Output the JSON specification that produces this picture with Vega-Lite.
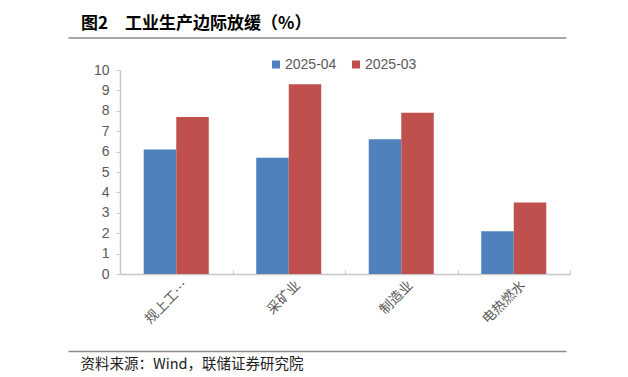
{
  "$schema": "https://vega.github.io/schema/vega-lite/v6.json",
  "background": "white",
  "width": 450,
  "height": 204,
  "autosize": {"type": "pad"},
  "padding": {"left": 68, "top": 14, "right": 0, "bottom": 0},
  "config": {
    "view": {"stroke": null},
    "font": "Liberation Sans"
  },
  "title": {
    "text": "图2　工业生产边际放缓（%）",
    "anchor": "start",
    "frame": "group",
    "dx": -39,
    "offset": 5,
    "font": "Noto Sans CJK SC",
    "fontSize": 17,
    "fontWeight": "bold",
    "color": "#000000"
  },
  "data": {
    "values": [
      {"category": "规上工业", "month": "2025-04", "value": 6.1},
      {"category": "规上工业", "month": "2025-03", "value": 7.7},
      {"category": "采矿业", "month": "2025-04", "value": 5.7},
      {"category": "采矿业", "month": "2025-03", "value": 9.3},
      {"category": "制造业", "month": "2025-04", "value": 6.6},
      {"category": "制造业", "month": "2025-03", "value": 7.9},
      {"category": "电热燃水", "month": "2025-04", "value": 2.1},
      {"category": "电热燃水", "month": "2025-03", "value": 3.5}
    ]
  },
  "layer": [
    {
      "mark": {"type": "bar"},
      "encoding": {
        "x": {
          "field": "category",
          "type": "nominal",
          "sort": ["规上工业", "采矿业", "制造业", "电热燃水"],
          "scale": {"paddingInner": 0, "paddingOuter": 0},
          "axis": {
            "orient": "bottom",
            "title": "资料来源：Wind，联储证券研究院",
            "titleX": -40,
            "titleY": 90.5,
            "titleAlign": "left",
            "titleBaseline": "middle",
            "titleLimit": 600,
            "titleFont": "Noto Sans CJK SC",
            "titleFontSize": 14.5,
            "titleFontWeight": "normal",
            "titleColor": "#222222",
            "labelAngle": -45,
            "labelFont": "Noto Sans CJK SC",
            "labelFontSize": 13.5,
            "labelColor": "#595959",
            "labelPadding": 8,
            "labelOffset": 4,
            "domainColor": "#c8c8c8",
            "domainWidth": 1.5,
            "tickColor": "#c8c8c8",
            "tickSize": -4,
            "tickBand": "extent",
            "labelExpr": "datum.value == '规上工业' ? '规上工…' : datum.value"
          }
        },
        "xOffset": {
          "field": "month",
          "type": "nominal",
          "sort": ["2025-04", "2025-03"],
          "scale": {"paddingInner": 0, "paddingOuter": 0.73}
        },
        "y": {
          "field": "value",
          "type": "quantitative",
          "scale": {"domain": [0, 10], "nice": false},
          "axis": {
            "title": null,
            "values": [0, 1, 2, 3, 4, 5, 6, 7, 8, 9, 10],
            "grid": false,
            "labelFont": "Liberation Sans",
            "labelFontSize": 14,
            "labelColor": "#595959",
            "labelPadding": 7,
            "domainColor": "#c8c8c8",
            "domainWidth": 1.5,
            "tickColor": "#c8c8c8",
            "tickSize": 4
          }
        },
        "color": {
          "field": "month",
          "type": "nominal",
          "sort": ["2025-04", "2025-03"],
          "scale": {"domain": ["2025-04", "2025-03"], "range": ["#4f81bd", "#c0504d"]},
          "legend": {
            "title": null,
            "orient": "none",
            "legendX": 149,
            "legendY": -12.5,
            "direction": "horizontal",
            "padding": 0,
            "symbolType": "square",
            "symbolSize": 64,
            "symbolStrokeWidth": 0,
            "labelFont": "Liberation Sans",
            "labelFontSize": 14,
            "labelColor": "#595959",
            "labelOffset": 2,
            "columnPadding": 12
          }
        }
      }
    },
    {
      "mark": {"type": "point", "opacity": 0},
      "encoding": {
        "x": {
          "field": "value",
          "type": "quantitative",
          "scale": {"domain": [0, 10], "range": [0, 498]},
          "axis": {
            "orient": "top",
            "position": -52,
            "offset": 32.5,
            "title": null,
            "labels": false,
            "ticks": false,
            "grid": false,
            "domainColor": "#8a8a8a",
            "domainWidth": 1.5
          }
        }
      }
    },
    {
      "mark": {"type": "point", "opacity": 0},
      "encoding": {
        "x": {
          "field": "value",
          "type": "quantitative",
          "scale": {"domain": [0, 10], "range": [0, 498]},
          "axis": {
            "orient": "bottom",
            "position": -52,
            "offset": 77,
            "title": null,
            "labels": false,
            "ticks": false,
            "grid": false,
            "domainColor": "#8a8a8a",
            "domainWidth": 1.5
          }
        }
      }
    }
  ],
  "resolve": {"scale": {"x": "independent"}, "axis": {"x": "independent"}}
}
